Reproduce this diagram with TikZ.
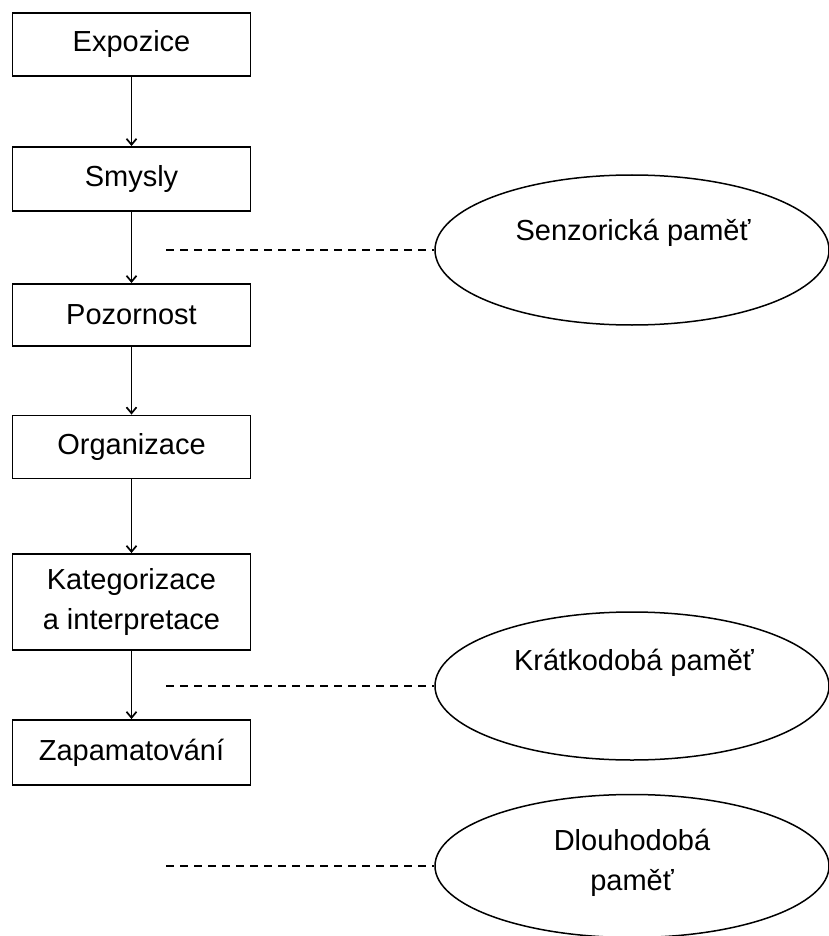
\documentclass[tikz,border=0pt]{standalone}
\usepackage{fontspec}
\setmainfont{Liberation Sans}
\usetikzlibrary{shapes.geometric,arrows.meta}
\begin{document}
\begin{tikzpicture}[x=1pt,y=-1pt,
  box/.style={draw, line width=1.9pt, minimum width=238pt, inner sep=0pt, align=center, font=\fontsize{29}{40}\selectfont},
  ell/.style={draw, ellipse, line width=1.5pt, minimum width=394pt, inner sep=0pt},
  lbl/.style={align=center, font=\fontsize{29}{40}\selectfont},
  flow/.style={line width=1.7pt, -{Straight Barb[length=6pt,width=10pt]}},
  link/.style={line width=1.5pt, dash pattern=on 8pt off 6pt}]
\useasboundingbox (0,0) rectangle (829,936);
\node[box, minimum height=63pt] (expo) at (131.5,44.5) {Expozice};
\node[box, minimum height=64pt] (smys) at (131.5,179) {Smysly};
\node[box, minimum height=62pt] (pozo) at (131.5,315) {Pozornost};
\node[box, minimum height=63pt] (orga) at (131.5,447) {Organizace};
\node[box, minimum height=96pt] (kate) at (131.5,602) {Kategorizace\\a interpretace};
\node[box, minimum height=65pt] (zapa) at (131.5,752.5) {Zapamatování};
\draw[flow] (expo) -- (smys);
\draw[flow] (smys) -- (pozo);
\draw[flow] (pozo) -- (orga);
\draw[flow] (orga) -- (kate);
\draw[flow] (kate) -- (zapa);
\node[ell, minimum height=150pt] (senz) at (632,250) {};
\node[ell, minimum height=148pt] (krat) at (632,686) {};
\node[ell, minimum height=143pt] (dlou) at (632,866) {};
\node[lbl] (tsenz) at (633,233) {Senzorická\ paměť};
\node[lbl] (tkrat) at (634,663) {Krátkodobá\ paměť};
\node[lbl] (tdlou) at (632,863) {Dlouhodobá\\paměť};
\coordinate (s0) at (166,250);
\coordinate (k0) at (166,686);
\coordinate (d0) at (166,866);
\draw[link] (s0) -- (senz.west);
\draw[link] (k0) -- (krat.west);
\draw[link] (d0) -- (dlou.west);
\end{tikzpicture}
\end{document}
